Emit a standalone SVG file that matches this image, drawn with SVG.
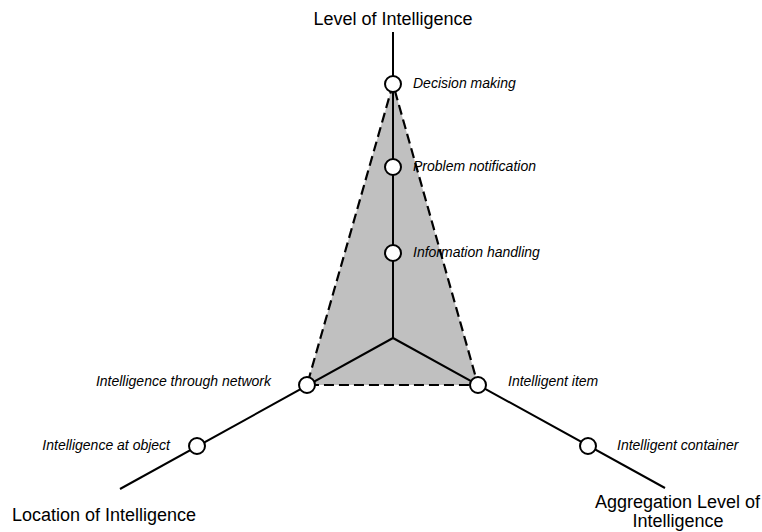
<svg xmlns="http://www.w3.org/2000/svg" width="762" height="532" viewBox="0 0 762 532">
<style>
.ax{stroke:#000;stroke-width:2;fill:none}
.pt{fill:#fff;stroke:#000;stroke-width:2}
.lb{font-family:"Liberation Sans",Arial,sans-serif;font-style:italic;font-size:14px;fill:#000}
.tt{font-family:"Liberation Sans",Arial,sans-serif;font-size:18px;fill:#000}
</style>
<rect width="762" height="532" fill="#fff"/>
<g id="area">
<polygon points="393,84 307,385 478,385" fill="#c0c0c0" stroke="#000" stroke-width="2.2" stroke-dasharray="10,5"/>
</g>
<g id="connectors">
<line class="ax" x1="393" y1="32" x2="393" y2="338"/>
<line class="ax" x1="393" y1="338" x2="120" y2="489"/>
<line class="ax" x1="393" y1="338" x2="665" y2="488"/>
</g>
<g id="decision"><circle class="pt" cx="393" cy="84" r="8"/><text class="lb" x="413" y="88">Decision making</text></g>
<g id="problem"><circle class="pt" cx="393" cy="167" r="8"/><text class="lb" x="413" y="171">Problem notification</text></g>
<g id="information"><circle class="pt" cx="393" cy="253" r="8"/><text class="lb" x="413" y="257">Information handling</text></g>
<g id="network"><circle class="pt" cx="307" cy="385" r="8"/><text class="lb" x="271" y="386" text-anchor="end">Intelligence through network</text></g>
<g id="object"><circle class="pt" cx="197" cy="446" r="8"/><text class="lb" x="170" y="450" text-anchor="end">Intelligence at object</text></g>
<g id="item"><circle class="pt" cx="478" cy="385" r="8"/><text class="lb" x="508" y="386">Intelligent item</text></g>
<g id="container"><circle class="pt" cx="588" cy="446" r="8"/><text class="lb" x="617" y="450">Intelligent container</text></g>
<g id="level"><text class="tt" x="393" y="25" text-anchor="middle">Level of Intelligence</text></g>
<g id="location"><text class="tt" x="12" y="521">Location of Intelligence</text></g>
<g id="aggregation"><text class="tt" x="760" y="508" text-anchor="end">Aggregation Level of</text><text class="tt" x="678" y="527" text-anchor="middle">Intelligence</text></g>
</svg>
